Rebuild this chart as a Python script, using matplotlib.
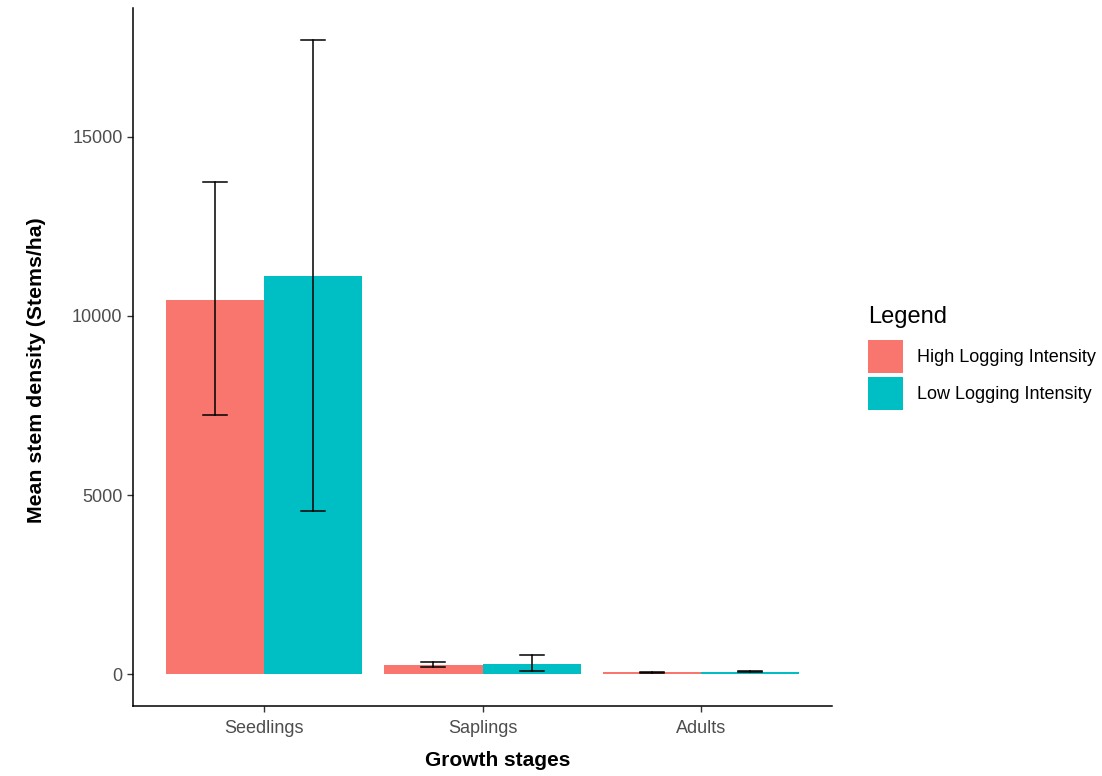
import numpy as np
import matplotlib.pyplot as plt
from matplotlib.patches import Patch

# data
stages = ['Seedlings', 'Saplings', 'Adults']
groups = ['High Logging Intensity', 'Low Logging Intensity']
high_mean = [10450, 250, 55]
high_lo = [7230, 195, 42]
high_hi = [13740, 355, 70]
low_mean = [11120, 300, 75]
low_lo = [4550, 90, 62]
low_hi = [17710, 540, 90]

colors = ['#F8766D', '#00BFC4']

plt.rcParams['font.family'] = ['Liberation Sans', 'DejaVu Sans']

fig = plt.figure(figsize=(11.02, 7.76), dpi=100)
ax = fig.add_axes([0.1207, 0.0902, 0.6343, 0.8995])

x = np.arange(1, len(stages) + 1)
w = 0.45
cap = 0.055

for off, mean, lo, hi, c in [(-w / 2, high_mean, high_lo, high_hi, colors[0]),
                             (w / 2, low_mean, low_lo, low_hi, colors[1])]:
    ax.bar(x + off, mean, width=w, color=c, linewidth=0)
    for xi, l, h in zip(x + off, lo, hi):
        ax.plot([xi, xi], [l, h], color='black', lw=1.1)
        ax.plot([xi - cap, xi + cap], [l, l], color='black', lw=1.1)
        ax.plot([xi - cap, xi + cap], [h, h], color='black', lw=1.1)

top = max(high_hi + low_hi)
ax.set_xlim(0.4, 3.6)
ax.set_ylim(-0.05 * top, top * 1.05)
ax.set_xticks(x)
ax.set_xticklabels(stages)
ax.set_yticks([0, 5000, 10000, 15000])
ax.tick_params(colors='#333333', labelcolor='#4D4D4D', labelsize=13, length=4, width=1)
ax.tick_params(axis='x', pad=6)

for s in ['top', 'right']:
    ax.spines[s].set_visible(False)
for s in ['left', 'bottom']:
    ax.spines[s].set_linewidth(1.1)
    ax.spines[s].set_color('black')

ax.set_xlabel('Growth stages', fontsize=15, fontweight='bold')
ax.xaxis.set_label_coords(0.522, -0.065)
ax.set_ylabel('Mean stem density (Stems/ha)', fontsize=15.3, fontweight='bold')
ax.yaxis.set_label_coords(-0.124, 0.481)

# legend
fig.text(868 / 1102, 1 - 317 / 776, 'Legend', fontsize=17, va='center', ha='left')
handles = [Patch(facecolor=c, edgecolor='none') for c in colors]
fig.legend(handles, groups, loc='upper left',
           bbox_to_anchor=(868 / 1102, 1 - 340 / 776), frameon=False, fontsize=13,
           handlelength=1.94, handleheight=2.44,
           labelspacing=0.22, handletextpad=0.75, borderpad=0, borderaxespad=0)

plt.savefig('out.png', dpi=100)
